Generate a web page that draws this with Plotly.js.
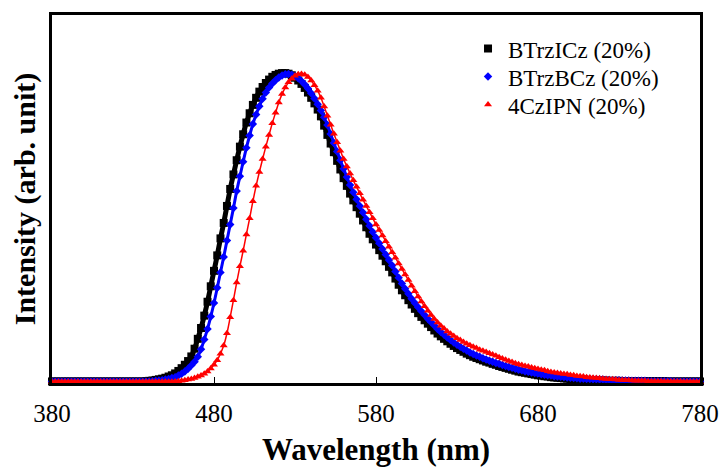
<!DOCTYPE html>
<html>
<head>
<meta charset="utf-8">
<script src="https://cdn.plot.ly/plotly-3.0.1.min.js"></script>
<style>html,body{margin:0;padding:0;background:#fff;}</style>
</head>
<body>
<div id="chart" style="width:721px;height:472px;"></div>
<script>
// Wavelength (nm)
var wavelength = [
380,382,384,386,388,390,392,394,396,398,
400,402,404,406,408,410,412,414,416,418,
420,422,424,426,428,430,432,434,436,438,
440,442,444,446,448,450,452,454,456,458,
460,462,464,466,468,470,472,474,476,478,
480,482,484,486,488,490,492,494,496,498,
500,502,504,506,508,510,512,514,516,518,
520,522,524,526,528,530,532,534,536,538,
540,542,544,546,548,550,552,554,556,558,
560,562,564,566,568,570,572,574,576,578,
580,582,584,586,588,590,592,594,596,598,
600,602,604,606,608,610,612,614,616,618,
620,622,624,626,628,630,632,634,636,638,
640,642,644,646,648,650,652,654,656,658,
660,662,664,666,668,670,672,674,676,678,
680,682,684,686,688,690,692,694,696,698,
700,702,704,706,708,710,712,714,716,718,
720,722,724,726,728,730,732,734,736,738,
740,742,744,746,748,750,752,754,756,758,
760,762,764,766,768,770,772,774,776,778,
780];

var seriesNames = ["BTrzICz (20%)", "BTrzBCz (20%)", "4CzIPN (20%)"];

var btrzicz = [
.002,.002,.002,.002,.002,.002,.002,.002,.002,.002,
.002,.002,.002,.002,.002,.002,.002,.002,.002,.002,
.002,.002,.002,.002,.002,.002,.002,.002,.002,.003,
.004,.005,.007,.009,.011,.014,.018,.022,.028,.036,
.045,.056,.068,.083,.108,.14,.175,.215,.26,.31,
.36,.41,.465,.515,.57,.625,.672,.718,.762,.802,
.84,.87,.897,.92,.94,.955,.968,.979,.988,.994,
.998,1,1,.998,.993,.985,.976,.965,.952,.937,
.92,.902,.882,.86,.83,.80,.772,.744,.716,.688,
.66,.635,.61,.588,.566,.545,.523,.501,.48,.462,
.445,.427,.409,.391,.373,.355,.335,.315,.297,.281,
.265,.251,.237,.223,.211,.2,.189,.178,.167,.157,
.148,.14,.132,.124,.117,.11,.104,.098,.092,.087,
.082,.078,.074,.07,.066,.063,.059,.056,.052,.049,
.046,.043,.04,.037,.034,.032,.03,.028,.026,.024,
.022,.021,.019,.018,.016,.015,.014,.013,.012,.011,
.01,.009,.009,.008,.008,.007,.007,.006,.006,.005,
.005,.005,.004,.004,.004,.004,.003,.003,.003,.003,
.003,.003,.003,.003,.003,.003,.003,.003,.003,.003,
.002,.002,.002,.002,.002,.002,.002,.002,.002,.002,
.002];

var btrzbcz = [
.002,.002,.002,.002,.002,.002,.002,.002,.002,.002,
.002,.002,.002,.002,.002,.002,.002,.002,.002,.002,
.002,.002,.002,.002,.002,.002,.002,.002,.002,.002,
.002,.003,.004,.005,.006,.008,.01,.013,.016,.021,
.027,.034,.043,.054,.066,.082,.106,.138,.172,.212,
.256,.305,.355,.405,.458,.51,.563,.618,.666,.713,
.758,.798,.835,.866,.893,.917,.937,.953,.966,.977,
.986,.992,.996,.997,.995,.99,.983,.974,.963,.95,
.935,.918,.899,.879,.857,.832,.803,.774,.746,.718,
.69,.664,.638,.614,.592,.57,.549,.527,.506,.486,
.467,.449,.431,.413,.395,.377,.358,.338,.319,.302,
.286,.27,.256,.242,.229,.217,.205,.194,.183,.172,
.162,.153,.144,.136,.128,.121,.114,.108,.102,.096,
.091,.086,.082,.077,.073,.069,.066,.062,.059,.055,
.052,.049,.046,.043,.04,.038,.035,.033,.031,.029,
.027,.025,.024,.022,.021,.019,.018,.017,.016,.015,
.014,.013,.012,.011,.011,.01,.01,.009,.009,.008,
.008,.007,.007,.006,.006,.006,.005,.005,.005,.004,
.004,.004,.004,.004,.003,.003,.003,.003,.003,.003,
.003,.003,.002,.002,.002,.002,.002,.002,.002,.002,
.002];

var czipn = [
.001,.001,.001,.001,.001,.001,.001,.001,.001,.001,
.001,.001,.001,.001,.001,.001,.001,.001,.001,.001,
.001,.001,.001,.001,.001,.001,.001,.001,.001,.001,
.001,.001,.001,.001,.001,.001,.001,.001,.002,.003,
.004,.006,.008,.01,.013,.017,.021,.027,.034,.044,
.056,.071,.092,.118,.158,.21,.265,.322,.375,.425,
.478,.53,.585,.635,.68,.722,.762,.8,.838,.872,
.905,.932,.953,.97,.982,.991,.996,.997,.995,.987,
.976,.961,.943,.92,.892,.862,.833,.804,.776,.749,
.722,.698,.675,.653,.632,.611,.59,.57,.55,.53,
.51,.492,.474,.456,.438,.42,.402,.384,.366,.348,
.33,.312,.294,.277,.261,.245,.231,.217,.204,.193,
.182,.173,.164,.156,.149,.142,.136,.13,.124,.119,
.114,.11,.105,.101,.097,.093,.089,.085,.08,.076,
.072,.068,.065,.061,.058,.055,.052,.05,.047,.045,
.042,.04,.038,.035,.033,.031,.029,.028,.026,.025,
.023,.022,.02,.019,.018,.016,.015,.014,.013,.012,
.011,.01,.009,.009,.008,.007,.007,.006,.006,.005,
.004,.004,.004,.004,.003,.003,.003,.003,.003,.002,
.002,.002,.002,.002,.002,.001,.001,.001,.001,.001,
.001];

var xTickVals = [380, 480, 580, 680, 780];
var xTickText = ["380", "480", "580", "680", "780"];

var series = [btrzicz, btrzbcz, czipn];
var colors = ["#000000", "#0000ff", "#ff0000"];
var symbols = ["square", "diamond", "triangle-up"];
var msizes = [8, 6.5, 7];
var lwidths = [5, 3, 1.5];
var legendIds = ["legend", "legend2", "legend3"];

var traces = [];
for (var i = 0; i < series.length; i++) {
  traces.push({
    x: wavelength, y: series[i], type: "scatter", mode: "lines",
    line: {color: colors[i], width: lwidths[i], shape: "spline"},
    showlegend: false, hoverinfo: "skip", cliponaxis: false
  });
  traces.push({
    x: wavelength, y: series[i], type: "scatter", mode: "markers",
    name: seriesNames[i], legend: legendIds[i],
    marker: {color: colors[i], symbol: symbols[i], size: msizes[i], line: {width: 0}},
    cliponaxis: false
  });
}

var serif = "'Times New Roman', 'Liberation Serif', 'DejaVu Serif', serif";

function legendAt(yPaper) {
  return {
    x: 0.642, y: yPaper, xanchor: "left", yanchor: "top",
    bgcolor: "rgba(255,255,255,0)", borderwidth: 0,
    font: {family: serif, size: 23, color: "#000"}
  };
}

var layout = {
  width: 721, height: 472,
  margin: {l: 52, r: 21, t: 15, b: 89, pad: 0},
  paper_bgcolor: "#ffffff", plot_bgcolor: "#ffffff",
  showlegend: true,
  xaxis: {
    range: [380, 780],
    tickmode: "array", tickvals: xTickVals, ticktext: xTickText,
    ticks: "inside", ticklen: 6, tickwidth: 1, tickcolor: "#000",
    showline: true, linewidth: 3, linecolor: "#000", mirror: true,
    showgrid: false, zeroline: false,
    tickfont: {family: serif, size: 25, color: "#000"},
    ticklabelstandoff: 6,
    title: {text: "<b>Wavelength (nm)</b>", font: {family: serif, size: 31, color: "#000"}, standoff: 13}
  },
  yaxis: {
    range: [-0.003, 1.188],
    showticklabels: false, ticks: "",
    showline: true, linewidth: 3, linecolor: "#000", mirror: true,
    showgrid: false, zeroline: false,
    title: {text: "<b>Intensity (arb. unit)</b>", font: {family: serif, size: 30, color: "#000"}, standoff: 5}
  },
  legend: legendAt(0.967),
  legend2: legendAt(0.891),
  legend3: legendAt(0.815)
};

Plotly.newPlot("chart", traces, layout, {staticPlot: true, displayModeBar: false});
</script>
</body>
</html>
